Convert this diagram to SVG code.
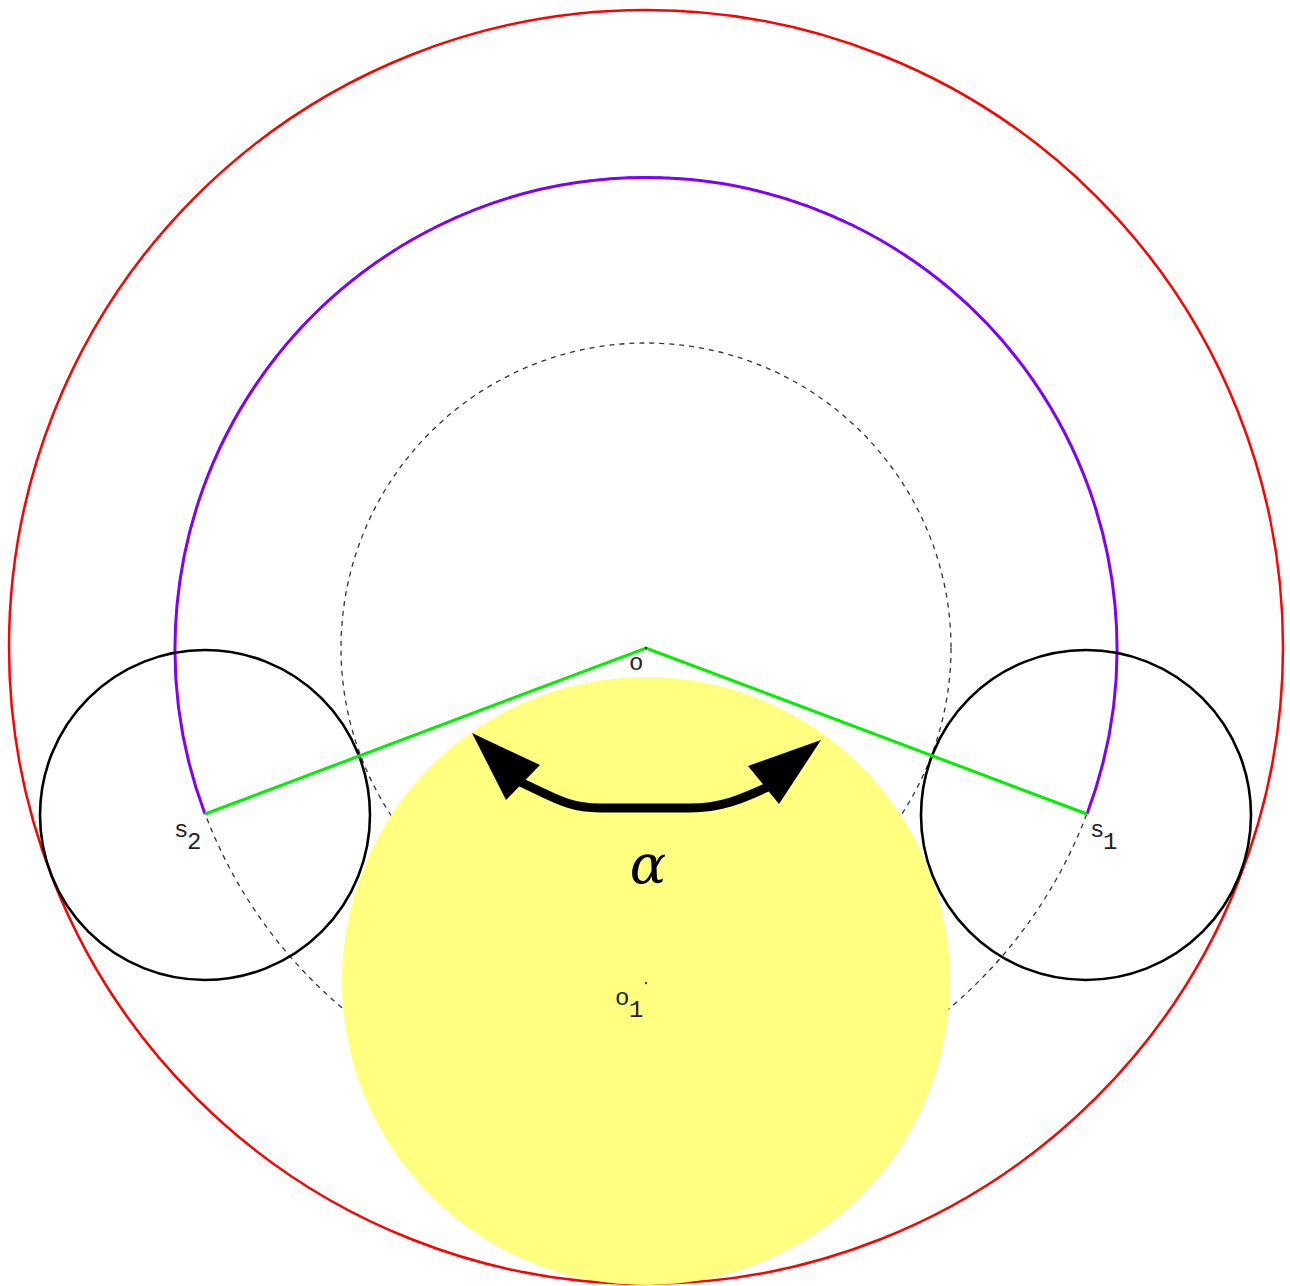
<svg xmlns="http://www.w3.org/2000/svg" width="1290" height="1286" viewBox="0 0 1290 1286">
  <style>
    .dash { fill: none; stroke: #333; stroke-width: 1.3; stroke-dasharray: 5 5; }
    .blk { fill: none; stroke: #000; stroke-width: 2.6; }
    .grn { fill: none; stroke: #00F000; stroke-width: 3; }
    .lbl { font-family: "Liberation Mono", monospace; font-size: 24px; fill: #222; }
  </style>
  <rect width="1290" height="1286" fill="#fff"/>
  <g id="outer-circle">
    <circle cx="646" cy="647" r="637" fill="none" stroke="#FF0000" stroke-width="2.5"/>
  </g>
  <g id="dashed-circles">
    <circle class="dash" cx="646" cy="648" r="305"/>
    <circle class="dash" cx="646" cy="648" r="471"/>
  </g>
  <g id="o1-circle">
    <circle cx="646" cy="981" r="304" fill="#FFFF80"/>
    <circle cx="646" cy="983" r="1.2" fill="#333"/>
    <text class="lbl" x="615" y="1005">o</text>
    <text class="lbl" x="629" y="1017">1</text>
  </g>
  <g id="orbit">
    <path d="M 205 814 A 471 471 0 1 1 1087 814" fill="none" stroke="#8000FF" stroke-width="3"/>
  </g>
  <g id="s2-circle">
    <circle class="blk" cx="205" cy="815" r="165"/>
    <text class="lbl" x="174" y="837">s</text>
    <text class="lbl" x="187" y="849">2</text>
  </g>
  <g id="s1-circle">
    <circle class="blk" cx="1086" cy="815" r="165"/>
    <text class="lbl" x="1090" y="837">s</text>
    <text class="lbl" x="1103" y="849">1</text>
  </g>
  <g id="connectors">
    <polyline class="grn" points="205,814 646,648 1087,814"/>
    <path d="M 518 781 C 555 798, 568 808, 600 808 L 690 808 C 720 808, 740 800, 770 786" fill="none" stroke="#000" stroke-width="9"/>
    <polygon points="472,733 540,765 506,800" fill="#000"/>
    <polygon points="821,740 748,766 779,804" fill="#000"/>
  </g>
  <g id="o-point">
    <circle cx="646" cy="648" r="1.2" fill="#333"/>
    <text class="lbl" x="629" y="670">o</text>
  </g>
  <g id="alpha-label">
    <text x="648" y="883" text-anchor="middle" font-family="DejaVu Serif, serif" font-style="italic" font-size="54" fill="#000">α</text>
  </g>
</svg>
